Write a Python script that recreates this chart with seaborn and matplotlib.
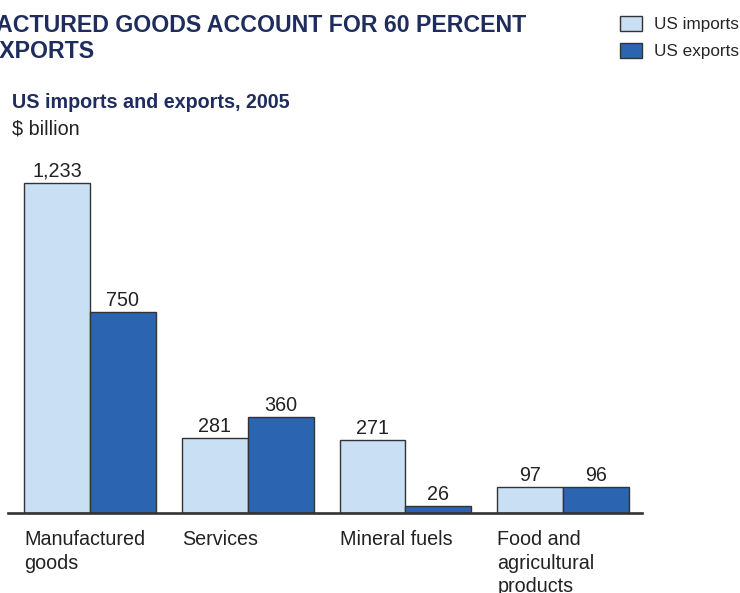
import matplotlib
matplotlib.use("Agg")
import matplotlib.pyplot as plt
from matplotlib.patches import Patch
import seaborn as sns
import pandas as pd

categories = ["Manufactured\ngoods", "Services", "Mineral fuels", "Food and\nagricultural\nproducts"]
imports = [1233, 281, 271, 97]
exports = [750, 360, 26, 96]
series = ["US imports", "US exports"]
colors = {"US imports": "#C9DFF3", "US exports": "#2B65B1"}

df = pd.DataFrame({
    "category": categories * 2,
    "value": imports + exports,
    "series": [series[0]] * len(categories) + [series[1]] * len(categories),
})

sns.set_theme(style="white")
plt.rcParams["font.family"] = ["Liberation Sans", "DejaVu Sans"]

W, H = 740, 593
fig = plt.figure(figsize=(W / 100, H / 100), dpi=100)
ax = fig.add_axes([8 / W, 80 / H, (642 - 8) / W, (513 - 150) / H])

sns.barplot(data=df, x="category", y="value", hue="series", order=categories,
            hue_order=series, palette=colors, saturation=1, width=0.835,
            edgecolor="#333333", linewidth=1, ax=ax, legend=False)

ax.set_xlim(-0.52, 3.50)
ax.set_ylim(0, 1356)
for s in ["left", "top", "right"]:
    ax.spines[s].set_visible(False)
ax.spines["bottom"].set_color("#333333")
ax.spines["bottom"].set_linewidth(1.9)
ax.set_xticks([])
ax.set_yticks([])
ax.set_xlabel("")
ax.set_ylabel("")

for cont in ax.containers:
    ax.bar_label(cont, fmt="{:,.0f}", padding=1.5, fontsize=14.2, color="#222222")

for i, lbl in enumerate(categories):
    ax.annotate(lbl, xy=(i - 0.4175, 0), xycoords=("data", "axes fraction"),
                xytext=(0, -12.5), textcoords="offset points", ha="left", va="top",
                fontsize=14.2, color="#222222", linespacing=1.3)

navy = "#1F2D5E"
fig.text(-86 / W, 1 - 32 / H, "MANUFACTURED GOODS ACCOUNT FOR 60 PERCENT",
         fontsize=16.7, fontweight="bold", color=navy, va="baseline", ha="left")
fig.text(-93 / W, 1 - 58 / H, "OF US EXPORTS",
         fontsize=16.7, fontweight="bold", color=navy, va="baseline", ha="left")
fig.text(12 / W, 1 - 108 / H, "US imports and exports, 2005",
         fontsize=14.2, fontweight="bold", color=navy, va="baseline", ha="left")
fig.text(12 / W, 1 - 135 / H, "$ billion",
         fontsize=14.2, color="#222222", va="baseline", ha="left")

handles = [Patch(facecolor=colors[s], edgecolor="#333333", linewidth=1, label=s) for s in series]
fig.legend(handles=handles, loc="upper left", bbox_to_anchor=(620 / W, 1 - 16 / H),
           frameon=False, fontsize=12.3, handlelength=1.3, handleheight=0.95,
           handletextpad=0.7, labelspacing=0.62, borderpad=0, borderaxespad=0)

fig.savefig("out.png", dpi=100)
